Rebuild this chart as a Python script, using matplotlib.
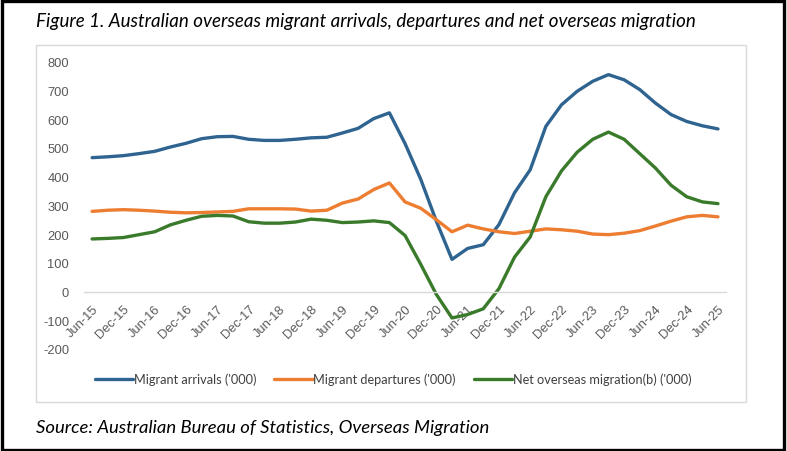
import matplotlib
matplotlib.use('Agg')
import matplotlib.pyplot as plt
from matplotlib.patches import Rectangle

# quarterly values, Jun-15 .. Jun-25 ('000)
quarters = ['Jun-15', 'Sep-15', 'Dec-15', 'Mar-16', 'Jun-16', 'Sep-16', 'Dec-16', 'Mar-17',
            'Jun-17', 'Sep-17', 'Dec-17', 'Mar-18', 'Jun-18', 'Sep-18', 'Dec-18', 'Mar-19',
            'Jun-19', 'Sep-19', 'Dec-19', 'Mar-20', 'Jun-20', 'Sep-20', 'Dec-20', 'Mar-21',
            'Jun-21', 'Sep-21', 'Dec-21', 'Mar-22', 'Jun-22', 'Sep-22', 'Dec-22', 'Mar-23',
            'Jun-23', 'Sep-23', 'Dec-23', 'Mar-24', 'Jun-24', 'Sep-24', 'Dec-24', 'Mar-25',
            'Jun-25']

arrivals = [466, 469, 473, 480, 488, 503, 516, 532, 539, 540, 530, 526, 526, 530, 535, 537,
            552, 568, 602, 622, 515, 391, 245, 112, 150, 163, 233, 344, 424, 575, 650, 697,
            732, 755, 737, 703, 656, 616, 592, 577, 566]

departures = [279, 283, 285, 283, 280, 276, 274, 275, 277, 279, 288, 288, 288, 287, 280, 283,
              308, 322, 355, 378, 312, 290, 250, 208, 231, 218, 208, 202, 210, 218, 215, 210,
              200, 198, 203, 212, 228, 245, 260, 265, 260]

net = [183, 185, 188, 198, 208, 232, 248, 262, 265, 263, 243, 238, 238, 242, 252, 248,
       240, 242, 246, 240, 195, 95, -10, -92, -80, -60, 10, 120, 190, 330, 420, 485,
       530, 555, 530, 480, 430, 370, 330, 312, 306]

W, H = 787, 452
fig = plt.figure(figsize=(W / 100, H / 100), dpi=100)

# axes placed in pixel terms
left, right, top, bottom = 84.3, 725.8, 62.7, 350.0
ax = fig.add_axes([left / W, 1 - bottom / H, (right - left) / W, (bottom - top) / H])

x = range(len(quarters))
style = dict(lw=2.4, solid_capstyle='round', solid_joinstyle='round')
ax.plot(x, arrivals, color='#2F6490', label="Migrant arrivals ('000)", **style)
ax.plot(x, departures, color='#ED7D31', label="Migrant departures ('000)", **style)
ax.plot(x, net, color='#3A7A2B', label="Net overseas migration(b) ('000)", **style)

ax.set_xlim(-0.5, len(quarters) - 0.5)
ax.set_ylim(-200, 800)

for s in ['top', 'right', 'left']:
    ax.spines[s].set_visible(False)
ax.spines['bottom'].set_position(('data', 0))
ax.spines['bottom'].set_color('#d9d9d9')
ax.spines['bottom'].set_linewidth(1)
ax.tick_params(axis='both', length=0, colors='#595959')
ax.tick_params(axis='x', pad=8)
ax.tick_params(axis='y', pad=11)

tick_font = {'family': 'Liberation Sans', 'size': 9.3}
ax.set_yticks(range(-200, 801, 100), [str(v) for v in range(-200, 801, 100)], fontdict=tick_font)
ax.set_xticks(list(x)[::2], quarters[::2], fontdict=tick_font,
              rotation=45, ha='right', va='top', rotation_mode='anchor')
ax.set_facecolor('none')

leg = fig.legend(loc='center', bbox_to_anchor=(393 / W, 1 - 380 / H), ncol=3, frameon=False,
                 handlelength=3.0, handletextpad=0.05, columnspacing=1.4,
                 prop={'family': 'Lato', 'size': 9.2})
for t in leg.get_texts():
    t.set_color('#404040')

# chart frame and outer border
fig.patches.append(Rectangle((36 / W, 1 - 403 / H), 710 / W, 357 / H, transform=fig.transFigure,
                             fill=False, edgecolor='#d9d9d9', lw=1))
fig.patches.append(Rectangle((1.5 / W, 1.5 / H), (W - 5) / W, (H - 3.5) / H, transform=fig.transFigure,
                             fill=False, edgecolor='black', lw=2.4))

fig.text(36 / W, 1 - 22 / H,
         'Figure 1. Australian overseas migrant arrivals, departures and net overseas migration',
         family='Lato', style='italic', fontsize=13.5, va='center', ha='left', color='black')
fig.text(36 / W, 1 - 428 / H, 'Source: Australian Bureau of Statistics, Overseas Migration',
         family='Lato', style='italic', fontsize=13.3, va='center', ha='left', color='black')

fig.savefig('out.png', dpi=100)
